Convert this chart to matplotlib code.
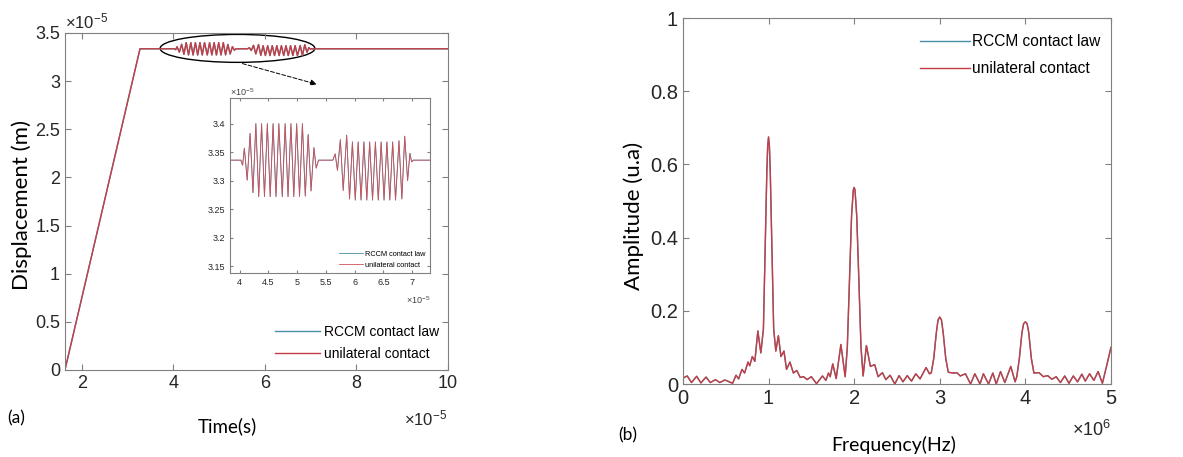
import numpy as np
import matplotlib
matplotlib.use("Agg")
import matplotlib.pyplot as plt
from matplotlib.patches import Ellipse

plt.rcParams["font.family"] = ["Liberation Sans", "DejaVu Sans"]
plt.rcParams["mathtext.default"] = "regular"

# -- data ----------------------------------------------------------------------
# time response: time in 1e-5 s, displacement in 1e-5 m
ramp_t = [1.63, 3.27]
ramp_u = [0.0, 3.336]

burst1_t = [4.02, 4.05, 4.08, 4.13, 4.18, 4.23, 4.28, 4.33, 4.38, 4.43, 4.48,
            4.53, 4.58, 4.63, 4.68, 4.74, 4.79, 4.84, 4.89, 4.94, 4.99, 5.04,
            5.09, 5.14, 5.19, 5.24, 5.29, 5.33, 5.37]
burst1_u = [3.336, 3.327, 3.357, 3.301, 3.383, 3.279, 3.400, 3.272, 3.400,
            3.272, 3.400, 3.272, 3.400, 3.272, 3.400, 3.272, 3.400, 3.272,
            3.400, 3.272, 3.400, 3.272, 3.400, 3.273, 3.381, 3.282, 3.358,
            3.322, 3.336]

burst2_t = [5.62, 5.66, 5.70, 5.75, 5.80, 5.86, 5.91, 5.96, 6.01, 6.06, 6.11,
            6.16, 6.21, 6.26, 6.31, 6.36, 6.41, 6.46, 6.51, 6.56, 6.61, 6.66,
            6.71, 6.77, 6.82, 6.87, 6.92, 6.96, 6.99, 7.02]
burst2_u = [3.336, 3.347, 3.318, 3.372, 3.283, 3.380, 3.268, 3.368, 3.266,
            3.368, 3.266, 3.368, 3.266, 3.368, 3.266, 3.368, 3.266, 3.368,
            3.266, 3.368, 3.266, 3.368, 3.266, 3.370, 3.268, 3.378, 3.300,
            3.348, 3.333, 3.336]

end_t = [10.0]
end_u = [3.336]

# spectrum: frequency in MHz, amplitude in u.a
freq = [0.00, 0.05, 0.10, 0.16, 0.21, 0.27, 0.32, 0.38, 0.43, 0.49, 0.54, 0.58,
        0.62, 0.65, 0.69, 0.72, 0.76, 0.78, 0.81, 0.84, 0.875, 0.91,
        0.94, 0.96, 0.98, 0.99, 1.00, 1.01, 1.02, 1.04, 1.06,
        1.085, 1.115, 1.145, 1.18, 1.21, 1.25, 1.29, 1.33, 1.37, 1.41, 1.45,
        1.50, 1.56, 1.63, 1.67, 1.70, 1.72, 1.75, 1.79, 1.845, 1.895,
        1.92, 1.95, 1.97, 1.99, 2.00, 2.01, 2.03, 2.05, 2.08, 2.105,
        2.143, 2.19, 2.24, 2.28, 2.33, 2.37, 2.42, 2.475, 2.525, 2.57, 2.62,
        2.67, 2.72, 2.77, 2.84, 2.88,
        2.90, 2.93, 2.96, 2.98, 3.00, 3.02, 3.04, 3.07, 3.10,
        3.16, 3.20, 3.24, 3.30, 3.36, 3.41, 3.47, 3.51, 3.57, 3.62, 3.66, 3.71,
        3.76, 3.83, 3.88,
        3.90, 3.93, 3.96, 3.98, 4.00, 4.02, 4.04, 4.07, 4.10,
        4.16, 4.21, 4.26, 4.31, 4.36, 4.41, 4.46, 4.51, 4.56, 4.61, 4.66, 4.70,
        4.75, 4.80, 4.85, 4.90, 4.95, 5.00]
amp = [0.016, 0.022, 0.004, 0.021, 0.003, 0.019, 0.004, 0.012, 0.004, 0.011, 0.006, 0.002,
       0.024, 0.014, 0.040, 0.030, 0.060, 0.050, 0.075, 0.062, 0.145, 0.085,
       0.150, 0.360, 0.580, 0.650, 0.675, 0.650, 0.580, 0.360, 0.150,
       0.090, 0.132, 0.075, 0.090, 0.040, 0.060, 0.030, 0.037, 0.018, 0.020, 0.012,
       0.020, 0.001, 0.022, 0.010, 0.030, 0.020, 0.055, 0.015, 0.108, 0.020,
       0.100, 0.320, 0.460, 0.530, 0.537, 0.530, 0.460, 0.320, 0.100, 0.022,
       0.105, 0.048, 0.053, 0.020, 0.031, 0.012, 0.024, 0.000, 0.023, 0.006, 0.023,
       0.008, 0.028, 0.014, 0.045, 0.028,
       0.030, 0.070, 0.140, 0.175, 0.183, 0.175, 0.140, 0.070, 0.032,
       0.030, 0.031, 0.022, 0.028, 0.000, 0.028, 0.000, 0.028, 0.000, 0.030, 0.000, 0.034,
       0.004, 0.048, 0.006,
       0.020, 0.070, 0.140, 0.165, 0.170, 0.165, 0.140, 0.070, 0.030,
       0.031, 0.020, 0.023, 0.013, 0.020, 0.004, 0.022, 0.002, 0.022, 0.006, 0.027, 0.008,
       0.028, 0.010, 0.034, 0.002, 0.050, 0.100]

labels = ["RCCM contact law", "unilateral contact"]
C_BLUE = "#4a8fa8"
C_RED = "#c63d45"
LABEL_FONT = ["Lato", "DejaVu Sans"]

t_all = np.concatenate([ramp_t, burst1_t, burst2_t, end_t])
u_all = np.concatenate([ramp_u, burst1_u, burst2_u, end_u])
t_burst = np.concatenate([[3.8], burst1_t, burst2_t, [7.4]])
u_burst = np.concatenate([[3.336], burst1_u, burst2_u, [3.336]])


def matlab_box(ax, fs, ticklen=4.5):
    for s in ax.spines.values():
        s.set_color("#808080")
        s.set_linewidth(0.8)
    ax.tick_params(direction="in", top=True, right=True, length=ticklen,
                   colors="#808080", labelcolor="#262626", labelsize=fs,
                   width=0.8)


fig = plt.figure(figsize=(11.83, 4.57), dpi=100)

# -- (a) time response ---------------------------------------------------------
ax1 = fig.add_axes([0.0549, 0.1904, 0.3238, 0.7374])
ax1.plot(t_all, u_all, color=C_BLUE, lw=1.0, label=labels[0])
ax1.plot(t_all, u_all, color=C_RED, lw=1.0, label=labels[1])
ax1.set_xlim(1.63, 10)
ax1.set_ylim(0, 3.5)
ax1.set_xticks([2, 4, 6, 8, 10])
ax1.set_yticks([0, 0.5, 1, 1.5, 2, 2.5, 3, 3.5])
ax1.set_yticklabels(["0", "0.5", "1", "1.5", "2", "2.5", "3", "3.5"])
matlab_box(ax1, 13)
ax1.set_xlabel("Time(s)", family=LABEL_FONT, fontsize=13.5, va="center")
ax1.xaxis.set_label_coords(0.423, -0.166)
ax1.set_ylabel("Displacement (m)", family=LABEL_FONT, fontsize=16, va="center")
ax1.yaxis.set_label_coords(-0.112, 0.49)
ax1.legend(loc="lower right", frameon=False, fontsize=10, handlelength=3.2,
           handletextpad=0.3, borderaxespad=0.25, labelspacing=0.55)
ax1.text(0.0, 1.005, r"$\times10^{-5}$", transform=ax1.transAxes,
         fontsize=12, color="#262626", va="bottom")
ax1.text(0.997, -0.113, r"$\times10^{-5}$", transform=ax1.transAxes,
         fontsize=12, color="#262626", ha="right", va="top")
fig.text(0.0135, 0.085, "(a)", family=LABEL_FONT, fontsize=12.5,
         ha="center", va="center")

ax1.add_patch(Ellipse((5.40, 3.34), width=3.38, height=0.29, fill=False,
                      edgecolor="black", lw=1.0))
ax1.annotate("", xy=(7.19, 2.96), xytext=(5.45, 3.19),
             arrowprops=dict(arrowstyle="-|>", color="black", lw=0.7,
                             linestyle=(0, (4, 2)), mutation_scale=9))

# -- inset ---------------------------------------------------------------------
axi = fig.add_axes([0.1944, 0.4026, 0.1691, 0.3829])
axi.plot(t_burst, u_burst, color=C_BLUE, lw=0.6, label=labels[0])
axi.plot(t_burst, u_burst, color="#d0505a", lw=0.6, label=labels[1])
axi.set_xlim(3.83, 7.31)
axi.set_ylim(3.138, 3.445)
axi.set_xticks([4, 4.5, 5, 5.5, 6, 6.5, 7])
axi.set_xticklabels(["4", "4.5", "5", "5.5", "6", "6.5", "7"])
axi.set_yticks([3.15, 3.2, 3.25, 3.3, 3.35, 3.4])
axi.set_yticklabels(["3.15", "3.2", "3.25", "3.3", "3.35", "3.4"])
matlab_box(axi, 6.5, ticklen=2.5)
axi.legend(loc="lower right", frameon=False, fontsize=5.3, handlelength=3.2,
           handletextpad=0.3, borderaxespad=0.2, labelspacing=0.5)
axi.text(0.0, 1.0, r"$\times10^{-5}$", transform=axi.transAxes,
         fontsize=6.5, color="#404040", va="bottom")
axi.text(1.0, -0.12, r"$\times10^{-5}$", transform=axi.transAxes,
         fontsize=6.5, color="#404040", ha="right", va="top")

# -- (b) spectrum --------------------------------------------------------------
ax2 = fig.add_axes([0.5773, 0.1597, 0.3618, 0.8009])
ax2.plot(freq, amp, color=C_BLUE, lw=1.0, label=labels[0])
ax2.plot(freq, amp, color=C_RED, lw=1.0, label=labels[1])
ax2.set_xlim(0, 5)
ax2.set_ylim(0, 1)
ax2.set_xticks([0, 1, 2, 3, 4, 5])
ax2.set_yticks([0, 0.2, 0.4, 0.6, 0.8, 1])
ax2.set_yticklabels(["0", "0.2", "0.4", "0.6", "0.8", "1"])
matlab_box(ax2, 14.5)
ax2.set_xlabel("Frequency(Hz)", family=LABEL_FONT, fontsize=14, va="center")
ax2.xaxis.set_label_coords(0.493, -0.167)
ax2.set_ylabel("Amplitude (u.a)", family=LABEL_FONT, fontsize=16, va="center")
ax2.yaxis.set_label_coords(-0.1145, 0.46)
ax2.legend(loc="upper right", bbox_to_anchor=(1.0, 0.985), frameon=False,
           fontsize=11.2, handlelength=3.2, handletextpad=0.1,
           borderaxespad=0.3, labelspacing=0.75)
ax2.text(1.0, -0.098, r"$\times10^{6}$", transform=ax2.transAxes,
         fontsize=13, color="#262626", ha="right", va="top")
fig.text(0.531, 0.048, "(b)", family=LABEL_FONT, fontsize=12.5,
         ha="center", va="center")

fig.savefig("out.png", dpi=100)
